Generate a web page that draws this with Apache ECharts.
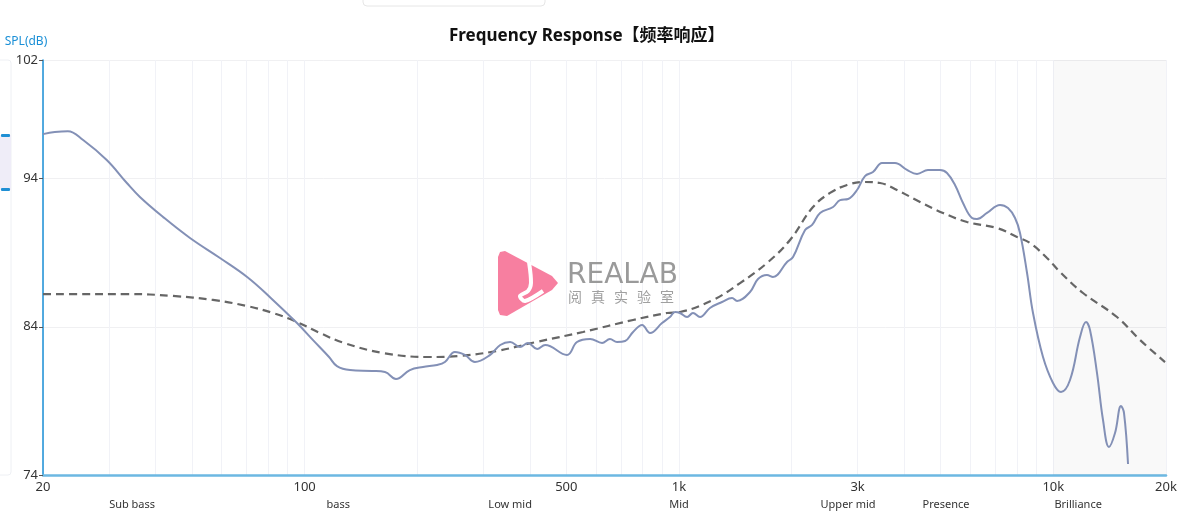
<!DOCTYPE html>
<html>
<head>
<meta charset="utf-8">
<script src="https://cdn.jsdelivr.net/npm/echarts@6/dist/echarts.min.js"></script>
<style>
html,body{margin:0;padding:0;background:#fff;}
#chart{width:1192px;height:514px;}
</style>
</head>
<body>
<div id="chart"></div>
<script>
// ---- data ----
const freqTicks = [20, 100, 500, 1000, 3000, 10000, 20000];
const tickLabels = ['20', '100', '500', '1k', '3k', '10k', '20k'];
const bandNames = ['Sub bass', 'bass', 'Low mid', 'Mid', 'Upper mid', 'Presence', 'Brilliance'];
const bandCenters = [34.6, 123, 354, 1000, 2830, 5170, 11650];
const gridFreqs = [20, 30, 40, 50, 60, 70, 80, 90, 100, 200, 300, 400, 500, 600, 700, 800, 900,
  1000, 2000, 3000, 4000, 5000, 6000, 7000, 8000, 9000, 10000, 20000];
const yTicks = [74, 84, 94, 102];
const shadeRange = [10000, 20000];
const watermarkChars = ['阅', '真', '实', '验', '室'];

const measFreq = [20, 21.5, 23.3, 25.6, 29.6, 33.5, 36.3, 41.9, 49.4, 59.4, 70.2, 80.8, 95.4, 105.3,
  116.2, 122, 132.2, 151.3, 163.9, 175.4, 191, 207, 225.8, 237, 252, 268, 285, 313, 333, 354, 376,
  395, 418, 439, 502, 534, 579, 623, 654, 683, 718, 754, 797, 837, 901, 946, 976, 1006, 1051, 1090,
  1138, 1210, 1303, 1386, 1429, 1548, 1626, 1718, 1783, 1944, 2017, 2172, 2268, 2382, 2580, 2694,
  2830, 2990, 3140, 3298, 3486, 3618, 3776, 4066, 4324, 4626, 4982, 5200, 5462, 5738, 6066, 6254,
  6650, 7206, 7568, 7902, 8148, 8508, 8826, 9386, 9982, 10484, 11082, 11784, 12228, 12532, 13084,
  13576, 14086, 14616, 15166, 15448, 15834];
const measDb = [97.0, 97.14, 97.2, 96.6, 95.25, 93.7, 92.76, 91.4, 89.99, 88.64, 87.36, 86.0, 84.25, 83.1,
  81.96, 81.35, 81.08, 81.02, 80.95, 80.48, 81.08, 81.29, 81.42, 81.62, 82.3, 82.1, 81.62, 82.1, 82.77,
  82.97, 82.64, 82.91, 82.5, 82.77, 82.1, 82.97, 83.18, 82.91, 83.18, 82.97, 83.04, 83.65, 84.12, 83.58,
  84.25, 84.66, 85.0, 84.93, 84.66, 84.93, 84.66, 85.27, 85.67, 85.94, 85.74, 86.35, 87.22, 87.49, 87.36,
  88.37, 88.71, 90.53, 90.87, 91.68, 92.08, 92.55, 92.62, 93.23, 94.17, 94.44, 95.05, 95.05, 95.05, 94.58,
  94.31, 94.58, 94.58, 94.38, 93.57, 92.35, 91.34, 91.27, 91.68, 92.22, 92.01, 91.34, 90.33, 87.63, 84.93,
  81.96, 80.21, 79.6, 80.41, 83.31, 84.32, 83.78, 80.88, 77.71, 75.89, 76.83, 78.65, 78.18, 74.74];

const targetFreq = [20, 25.1, 33.5, 44.5, 56.9, 70.2, 82.3, 95.4, 109.9, 127.4, 161.9, 214.8, 258.6, 326.4,
  415, 554, 754, 929, 1006, 1233, 1456, 1718, 1980, 2280, 2532, 2812, 3102, 3444, 3822, 4404, 5074,
  5882, 7074, 7998, 8666, 9620, 10422, 12004, 14796, 17046, 19880];
const targetDb = [86.21, 86.21, 86.21, 86.08, 85.81, 85.4, 84.93, 84.32, 83.58, 82.91, 82.23, 81.96, 82.03,
  82.37, 82.97, 83.65, 84.46, 84.93, 85.0, 85.81, 86.95, 88.3, 89.86, 92.08, 93.03, 93.57, 93.77, 93.7,
  93.23, 92.42, 91.68, 91.07, 90.66, 90.06, 89.65, 88.64, 87.7, 86.28, 84.66, 83.11, 81.62];

// ---- build ----
const lg = Math.log10;
const xMin = lg(20), xMax = lg(20000);
function pairs(fs, ds) { return fs.map((f, i) => [lg(f), ds[i]]); }
function labelFor(values, labels) {
  return function (v) {
    for (let i = 0; i < values.length; i++) if (Math.abs(lg(values[i]) - v) < 1e-6) return labels[i];
    return '';
  };
}

const wmText = watermarkChars.map((c, i) => ({
  type: 'text', z: 1, silent: true, left: 568 + i * 23, top: 290,
  style: { text: c, fill: '#a0a0a0', font: '14px "Noto Sans CJK SC", sans-serif' }
}));

const chart = echarts.init(document.getElementById('chart'), null, { renderer: 'canvas' });
const option = {
  animation: false,
  backgroundColor: '#fff',
  title: {
    text: 'Frequency Response【频率响应】',
    left: 444, top: 23,
    textStyle: { fontSize: 17, fontWeight: 'bold', color: '#111', fontFamily: '"Noto Sans", "Noto Sans CJK SC", sans-serif' }
  },
  grid: { left: 43, right: 26, top: 60, bottom: 39 },
  xAxis: [{
    type: 'value', min: xMin, max: xMax,
    axisLine: { show: true, lineStyle: { color: '#6cb8e2', width: 2.5 } },
    axisTick: { show: false, customValues: gridFreqs.map(lg) },
    axisLabel: { customValues: freqTicks.map(lg), formatter: labelFor(freqTicks, tickLabels), color: '#333', fontSize: 13, margin: 6, fontFamily: '"Noto Sans", sans-serif' },
    splitLine: { show: true, lineStyle: { color: '#f1f2f7', width: 1 } }
  }, {
    type: 'value', min: xMin, max: xMax, position: 'bottom', offset: 17,
    axisLine: { show: false }, axisTick: { show: false }, splitLine: { show: false },
    axisLabel: { customValues: bandCenters.map(lg), formatter: labelFor(bandCenters, bandNames), color: '#333', fontSize: 11, margin: 7, fontFamily: '"Noto Sans", sans-serif' }
  }],
  yAxis: {
    type: 'value', min: 74, max: 102,
    name: 'SPL(dB)', nameLocation: 'end', nameGap: 12,
    nameTextStyle: { color: '#1a8fd6', fontSize: 12, padding: [0, 34, 0, 0], fontFamily: '"Noto Sans", sans-serif' },
    axisLine: { show: true, lineStyle: { color: '#1a8fd6', width: 1.5 } },
    axisTick: { show: true, length: 4, lineStyle: { color: '#555' }, customValues: yTicks },
    axisLabel: { customValues: yTicks, color: '#333', fontSize: 13, margin: 5, fontFamily: '"Noto Sans", sans-serif' },
    splitLine: { show: true, lineStyle: { color: '#f0f0f2' } }
  },
  series: [{
    name: 'target', type: 'line', smooth: 0.4, symbol: 'none',
    lineStyle: { color: '#666', width: 2.2, type: [8, 5] },
    data: pairs(targetFreq, targetDb), z: 3,
    markArea: {
      silent: true,
      itemStyle: { color: 'rgba(0,0,0,0.022)' },
      data: [[{ xAxis: lg(shadeRange[0]) }, { xAxis: lg(shadeRange[1]) }]]
    }
  }, {
    name: 'measured', type: 'line', smooth: 0.4, symbol: 'none',
    lineStyle: { color: '#8390b6', width: 2 },
    data: pairs(measFreq, measDb), z: 4
  }],
  graphic: [
    { type: 'rect', shape: { x: 363, y: -8, width: 182, height: 14, r: 4 }, style: { fill: '#fff', stroke: '#e6e6e6', lineWidth: 1 }, silent: true },
    { type: 'rect', shape: { x: -6, y: 60, width: 17, height: 415, r: 3 }, style: { fill: 'rgba(0,0,0,0)', stroke: '#eef0f4', lineWidth: 1 }, silent: true },
    { type: 'rect', shape: { x: 0, y: 135, width: 11, height: 55 }, style: { fill: '#efedf8' }, silent: true },
    { type: 'rect', shape: { x: 1, y: 134, width: 9, height: 3, r: 1 }, style: { fill: '#1f8fd4' }, silent: true },
    { type: 'rect', shape: { x: 1, y: 188, width: 9, height: 3, r: 1 }, style: { fill: '#1f8fd4' }, silent: true },
    // watermark logo
    { type: 'polygon', z: 1, silent: true,
      shape: { points: [[498, 257], [500, 252], [505, 251], [552, 276], [558, 283], [552, 290], [507, 316], [500, 315], [498, 310]] },
      style: { fill: '#f77fa0' } },
    { type: 'polyline', z: 1, silent: true,
      shape: { points: [[529, 262], [531, 283], [528, 291], [520, 296], [525, 301], [543, 291]], smooth: 0.3 },
      style: { fill: 'none', stroke: '#fff', lineWidth: 4 } },
    { type: 'text', z: 1, silent: true, left: 567, top: 262,
      style: { text: 'REALAB', fill: '#9a9a9a', font: '28px "DejaVu Sans", sans-serif' } }
  ].concat(wmText)
};
chart.setOption(option);
</script>
</body>
</html>
